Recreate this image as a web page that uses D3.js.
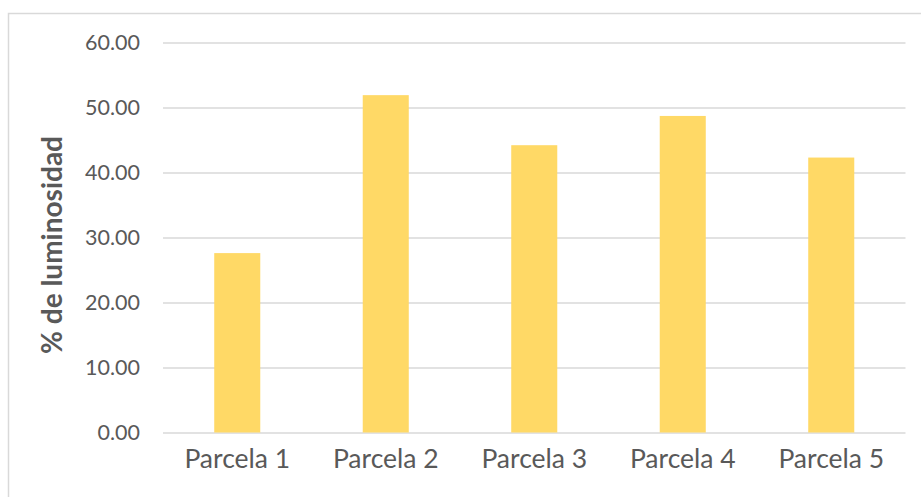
<!DOCTYPE html>
<html>
<head>
<meta charset="utf-8">
<script src="https://cdn.jsdelivr.net/npm/d3@7"></script>
<style>
  html, body { margin: 0; padding: 0; background: #fff; }
  svg { display: block; }
  text { font-family: Lato, "Open Sans", sans-serif; fill: #595959; }
</style>
</head>
<body>
<svg id="chart" width="921" height="497"></svg>
<script>
// Luminosity per plot
const categories = ["Parcela 1", "Parcela 2", "Parcela 3", "Parcela 4", "Parcela 5"];
const values = [27.6, 51.9, 44.2, 48.7, 42.3];
const yTicks = [0, 10, 20, 30, 40, 50, 60];
const yTitle = "% de luminosidad";

const svg = d3.select("#chart");
const W = 921, H = 497;
const plot = { left: 163, right: 905.5, top: 42.5, bottom: 432.5 };

// outer frame (top and left edges are visible)
svg.append("path")
  .attr("d", `M8.5,${H} L8.5,13.5 L${W},13.5`)
  .attr("fill", "none")
  .attr("stroke", "#d9d9d9")
  .attr("stroke-width", 1.5);

const x = d3.scaleBand()
  .domain(categories)
  .range([plot.left, plot.right])
  .paddingInner(0.69)
  .paddingOuter(0.345);

const y = d3.scaleLinear()
  .domain([0, 60])
  .range([plot.bottom, plot.top]);

// gridlines + y tick labels
const yAxis = d3.axisLeft(y)
  .tickValues(yTicks)
  .tickSize(-(plot.right - plot.left))
  .tickPadding(23)
  .tickFormat(d3.format(".2f"));

const gy = svg.append("g")
  .attr("transform", `translate(${plot.left},0)`)
  .call(yAxis);
gy.select(".domain").remove();
gy.selectAll(".tick line")
  .attr("stroke", "#d9d9d9")
  .attr("stroke-width", 1.5);
gy.selectAll(".tick text")
  .style("font-size", "21.5px")
  .attr("fill", "#595959");

// bars
svg.append("g")
  .selectAll("rect")
  .data(categories)
  .join("rect")
  .attr("x", d => x(d))
  .attr("width", x.bandwidth())
  .attr("y", (d, i) => y(values[i]))
  .attr("height", (d, i) => y(0) - y(values[i]))
  .attr("fill", "#ffd966");

// x axis labels
const xAxis = d3.axisBottom(x).tickSize(0).tickPadding(17);
const gx = svg.append("g")
  .attr("transform", `translate(0,${plot.bottom})`)
  .call(xAxis);
gx.select(".domain").remove();
gx.selectAll(".tick text")
  .style("font-size", "26.5px")
  .attr("fill", "#595959");

// y axis title
svg.append("text")
  .attr("transform", `translate(62,245) rotate(-90)`)
  .attr("text-anchor", "middle")
  .style("font-size", "28px")
  .style("font-weight", "bold")
  .text(yTitle);
</script>
</body>
</html>
